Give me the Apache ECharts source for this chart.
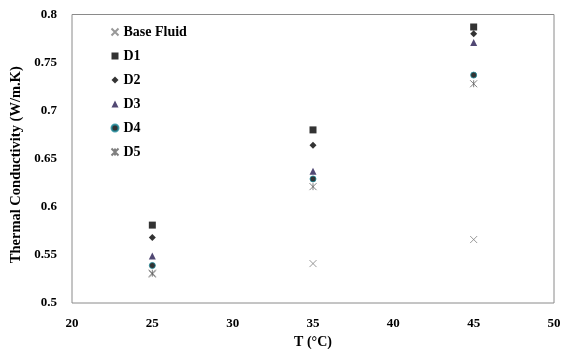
<!DOCTYPE html>
<html><head><meta charset="utf-8">
<script src="https://cdn.jsdelivr.net/npm/echarts@6/dist/echarts.min.js"></script>
<style>html,body{margin:0;padding:0;background:#fff}#c{width:568px;height:349px}</style>
</head><body><div id="c"></div>
<script>
const temps = [25, 35, 45];
const baseFluid = [0.530, 0.541, 0.566];
const d1 = [0.581, 0.680, 0.787];
const d2 = [0.568, 0.664, 0.780];
const d3 = [0.549, 0.637, 0.771];
const d4 = [0.539, 0.629, 0.737];
const d5 = [0.531, 0.621, 0.728];
const seriesNames = ['Base Fluid', 'D1', 'D2', 'D3', 'D4', 'D5'];
const xTicks = [20, 25, 30, 35, 40, 45, 50];
const yTicks = [0.5, 0.55, 0.6, 0.65, 0.7, 0.75, 0.8];

const font = '"Liberation Serif", "Times New Roman", serif';
const pair = arr => temps.map((t, i) => [t, arr[i]]);
const crossPath = 'path://M0,0L10,10M10,0L0,10';
const starPath = 'path://M0,0L10,10M10,0L0,10M5,0L5,10';

const styles = [
  {symbol: crossPath, size: 7, itemStyle: {color: 'none', borderColor: '#808080', borderWidth: 1}},
  {symbol: 'rect', size: 7, itemStyle: {color: '#000'}},
  {symbol: 'diamond', size: 7, itemStyle: {color: '#000'}},
  {symbol: 'triangle', size: 7, itemStyle: {color: '#261a50'}},
  {symbol: 'circle', size: 6, itemStyle: {color: '#000', borderColor: '#1e8c9c', borderWidth: 1}},
  {symbol: starPath, size: 7, itemStyle: {color: 'none', borderColor: '#606060', borderWidth: 1}}
];
const datas = [baseFluid, d1, d2, d3, d4, d5];

const chart = echarts.init(document.getElementById('c'), null, {renderer: 'canvas'});
chart.setOption({
  animation: false,
  backgroundColor: '#fff',
  textStyle: {fontFamily: font},
  grid: {left: 72, right: 14, top: 14.5, bottom: 46, show: true, borderColor: '#8a8a8a', borderWidth: 1,
    outerBoundsMode: 'none', containLabel: false},
  legend: {
    orient: 'vertical', left: 104, top: 19, padding: 5, itemGap: 8, itemWidth: 7, itemHeight: 7,
    textStyle: {fontFamily: font, fontWeight: 'bold', fontSize: 14, color: '#000', lineHeight: 16},
    data: seriesNames.map((n, i) => ({name: n, icon: styles[i].symbol}))
  },
  xAxis: {
    type: 'value', min: xTicks[0], max: xTicks[xTicks.length - 1], interval: 5,
    axisLine: {show: false}, axisTick: {show: false}, splitLine: {show: false},
    axisLabel: {fontFamily: font, fontWeight: 'bold', fontSize: 13, color: '#000', margin: 14},
    name: 'T (°C)', nameLocation: 'middle', nameGap: 31,
    nameTextStyle: {fontFamily: font, fontWeight: 'bold', fontSize: 14, color: '#000'}
  },
  yAxis: {
    type: 'value', min: yTicks[0], max: yTicks[yTicks.length - 1], interval: 0.05,
    axisLine: {show: false}, axisTick: {show: false}, splitLine: {show: false},
    axisLabel: {fontFamily: font, fontWeight: 'bold', fontSize: 13, color: '#000', margin: 15,
      formatter: v => String(parseFloat(v.toFixed(2)))},
    name: 'Thermal Conductivity (W/m.K)', nameLocation: 'middle', nameGap: 47, nameRotate: 90,
    nameTextStyle: {fontFamily: font, fontWeight: 'bold', fontSize: 14.5, color: '#000', padding: [0, 12, 0, 0]}
  },
  series: datas.map((d, i) => ({
    name: seriesNames[i], type: 'scatter', data: pair(d),
    symbol: styles[i].symbol, symbolSize: styles[i].size, itemStyle: styles[i].itemStyle
  }))
});
</script></body></html>
